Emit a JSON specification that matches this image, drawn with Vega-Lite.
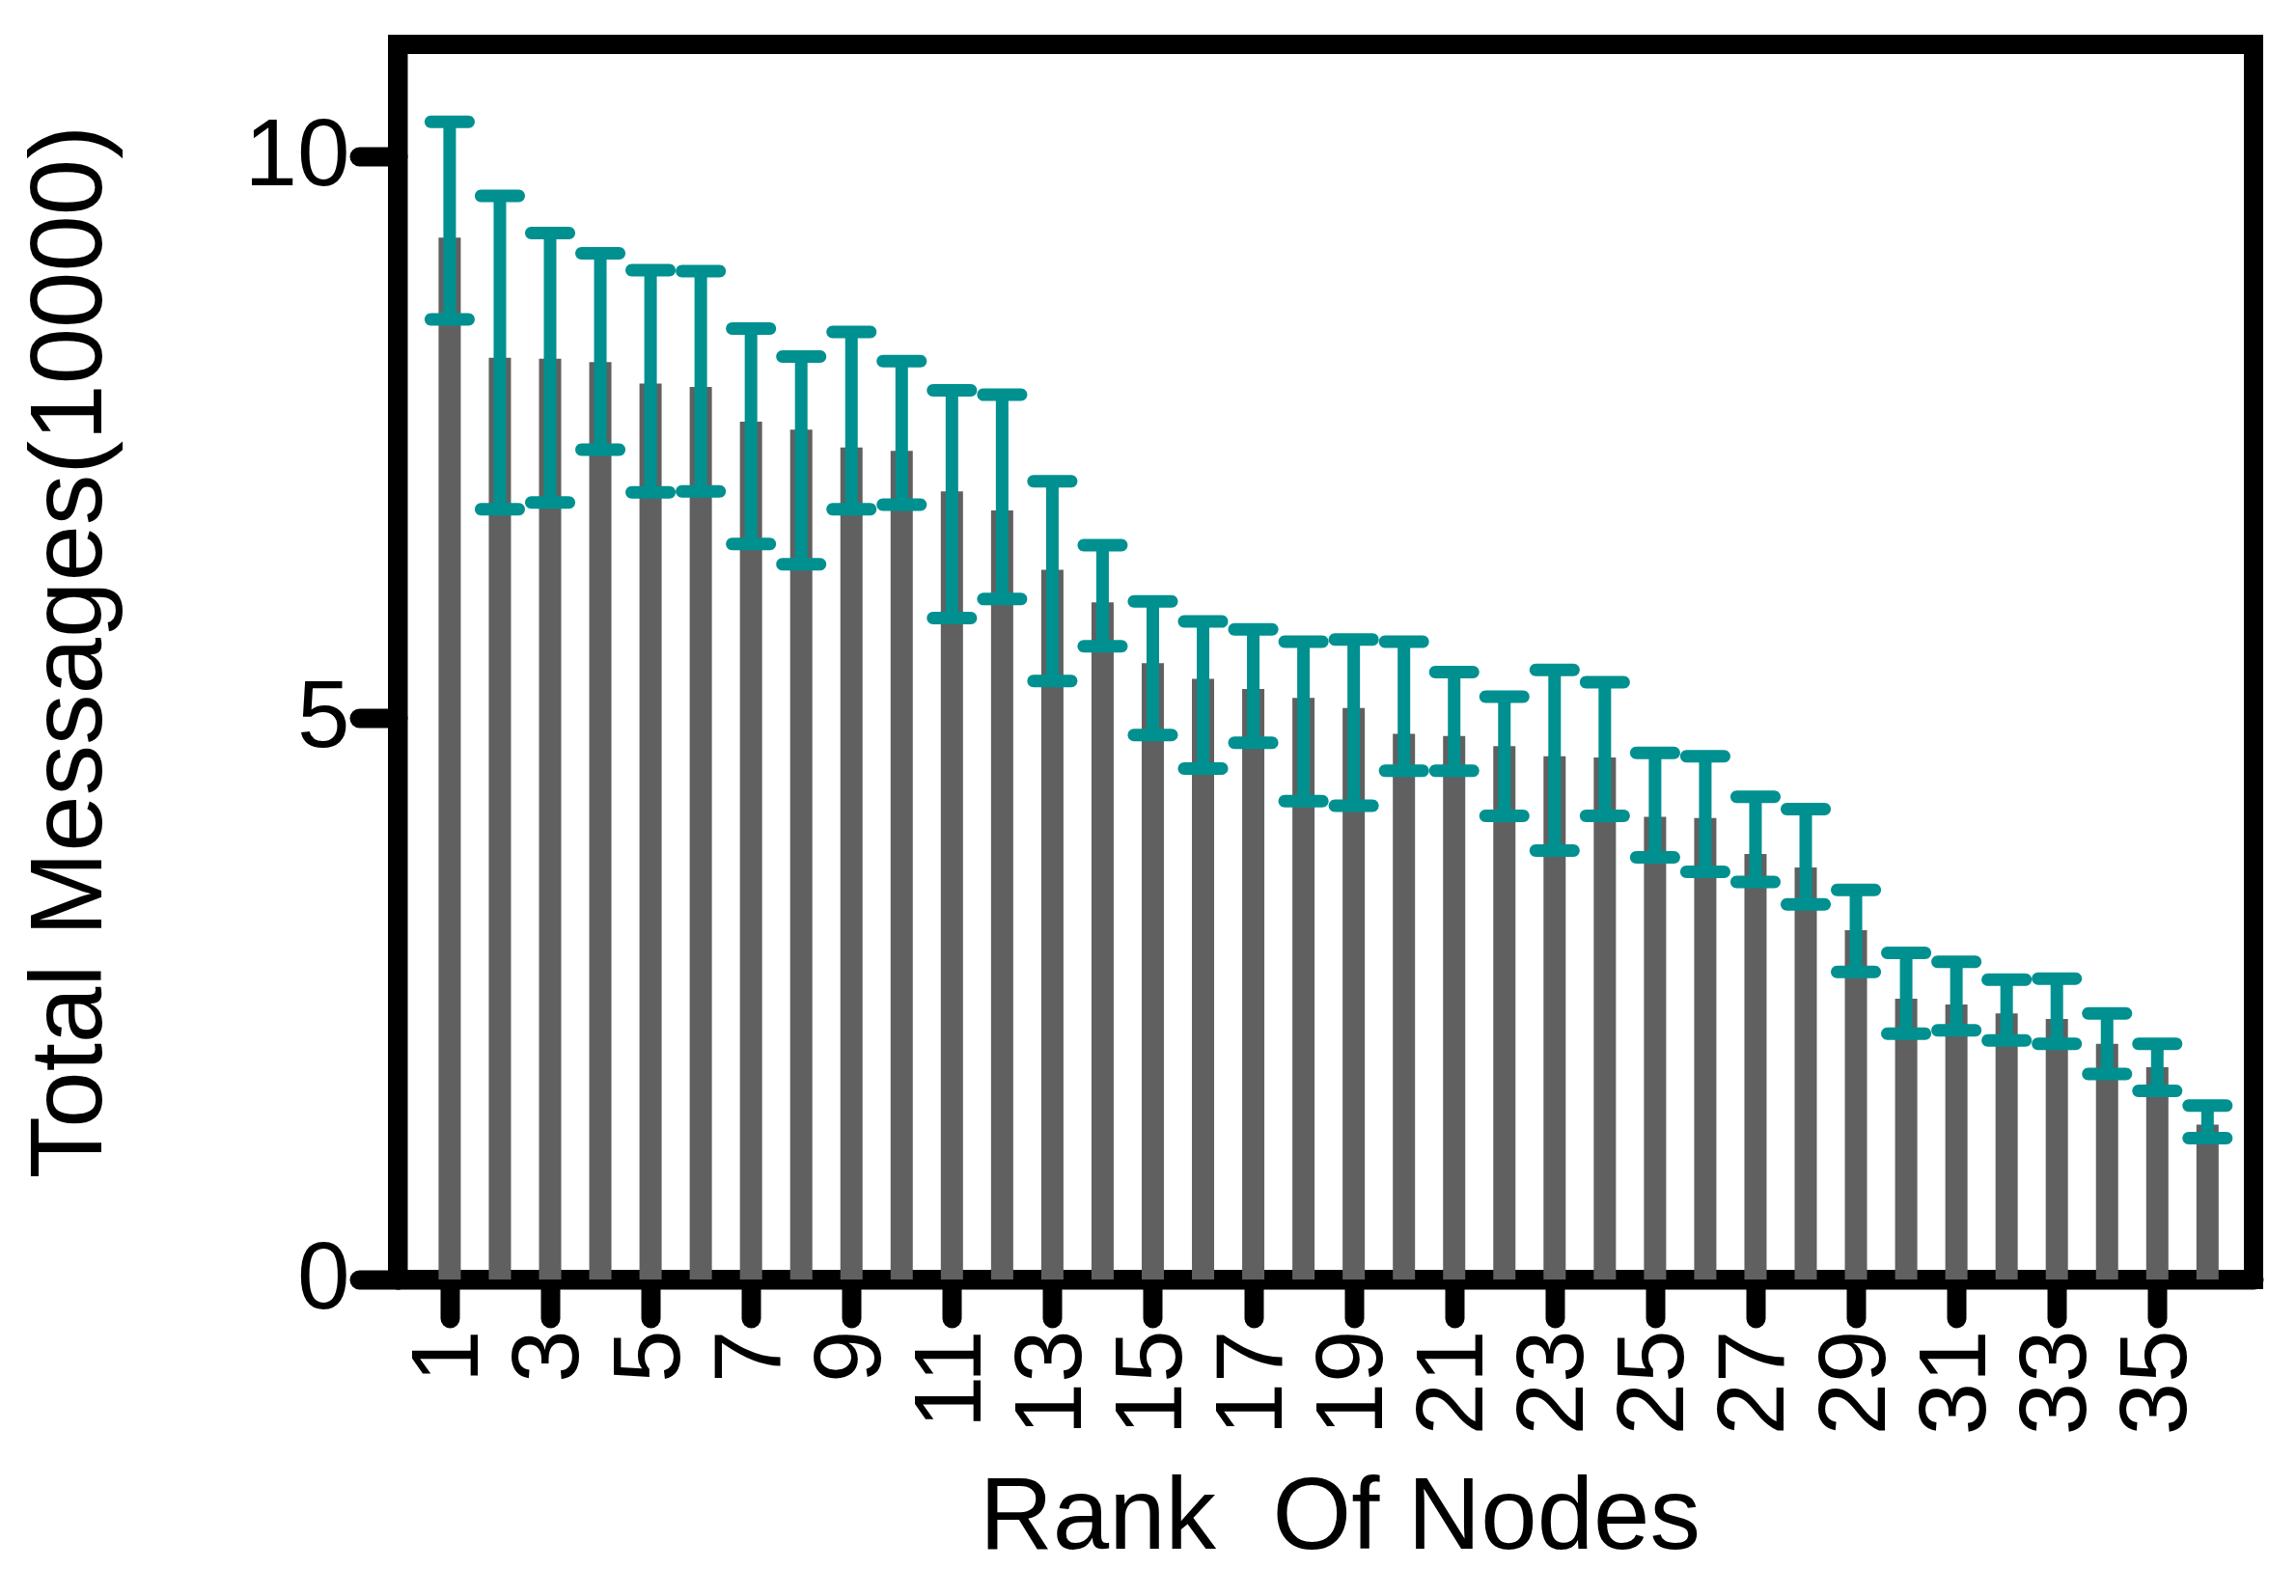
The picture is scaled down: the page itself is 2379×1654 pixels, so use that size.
{
  "$schema": "https://vega.github.io/schema/vega-lite/v6.json",
  "autosize": {"type": "none"},
  "padding": {"left": 412, "top": 46, "right": 44, "bottom": 328},
  "width": 1923,
  "height": 1280,
  "background": "white",
  "config": {
    "view": {"stroke": "black", "strokeWidth": 20},
    "font": "Liberation Sans",
    "axis": {
      "domainColor": "black",
      "domainWidth": 20,
      "domainCap": "round",
      "tickColor": "black",
      "tickWidth": 20,
      "tickCap": "round",
      "tickSize": 40,
      "grid": false,
      "labelFont": "Liberation Sans",
      "labelFontSize": 98,
      "labelColor": "black",
      "labelLimit": 1000,
      "titleFont": "Liberation Sans",
      "titleFontSize": 105,
      "titleFontWeight": "normal",
      "titleColor": "black"
    }
  },
  "data": {
    "values": [
      {"rank": 1, "mean": 9.28, "lo": 8.55, "hi": 10.31},
      {"rank": 2, "mean": 8.21, "lo": 6.86, "hi": 9.65},
      {"rank": 3, "mean": 8.20, "lo": 6.92, "hi": 9.32},
      {"rank": 4, "mean": 8.17, "lo": 7.39, "hi": 9.14},
      {"rank": 5, "mean": 7.98, "lo": 7.01, "hi": 8.99},
      {"rank": 6, "mean": 7.95, "lo": 7.02, "hi": 8.98},
      {"rank": 7, "mean": 7.64, "lo": 6.55, "hi": 8.47},
      {"rank": 8, "mean": 7.57, "lo": 6.37, "hi": 8.22},
      {"rank": 9, "mean": 7.41, "lo": 6.86, "hi": 8.44},
      {"rank": 10, "mean": 7.38, "lo": 6.90, "hi": 8.18},
      {"rank": 11, "mean": 7.02, "lo": 5.89, "hi": 7.92},
      {"rank": 12, "mean": 6.85, "lo": 6.06, "hi": 7.88},
      {"rank": 13, "mean": 6.32, "lo": 5.33, "hi": 7.11},
      {"rank": 14, "mean": 6.03, "lo": 5.64, "hi": 6.54},
      {"rank": 15, "mean": 5.49, "lo": 4.85, "hi": 6.04},
      {"rank": 16, "mean": 5.35, "lo": 4.55, "hi": 5.86},
      {"rank": 17, "mean": 5.26, "lo": 4.78, "hi": 5.79},
      {"rank": 18, "mean": 5.18, "lo": 4.26, "hi": 5.68},
      {"rank": 19, "mean": 5.09, "lo": 4.22, "hi": 5.70},
      {"rank": 20, "mean": 4.86, "lo": 4.53, "hi": 5.68},
      {"rank": 21, "mean": 4.84, "lo": 4.53, "hi": 5.41},
      {"rank": 22, "mean": 4.75, "lo": 4.13, "hi": 5.19},
      {"rank": 23, "mean": 4.66, "lo": 3.82, "hi": 5.43},
      {"rank": 24, "mean": 4.65, "lo": 4.13, "hi": 5.32},
      {"rank": 25, "mean": 4.12, "lo": 3.76, "hi": 4.69},
      {"rank": 26, "mean": 4.11, "lo": 3.63, "hi": 4.66},
      {"rank": 27, "mean": 3.79, "lo": 3.54, "hi": 4.30},
      {"rank": 28, "mean": 3.67, "lo": 3.34, "hi": 4.19},
      {"rank": 29, "mean": 3.11, "lo": 2.74, "hi": 3.47},
      {"rank": 30, "mean": 2.50, "lo": 2.19, "hi": 2.91},
      {"rank": 31, "mean": 2.45, "lo": 2.22, "hi": 2.83},
      {"rank": 32, "mean": 2.37, "lo": 2.13, "hi": 2.67},
      {"rank": 33, "mean": 2.32, "lo": 2.10, "hi": 2.68},
      {"rank": 34, "mean": 2.10, "lo": 1.83, "hi": 2.37},
      {"rank": 35, "mean": 1.89, "lo": 1.68, "hi": 2.10},
      {"rank": 36, "mean": 1.38, "lo": 1.26, "hi": 1.55}
    ]
  },
  "encoding": {
    "x": {
      "field": "rank",
      "type": "quantitative",
      "scale": {"domain": [0.06, 36.82], "nice": false, "zero": false},
      "axis": {
        "values": [1, 3, 5, 7, 9, 11, 13, 15, 17, 19, 21, 23, 25, 27, 29, 31, 33, 35],
        "format": "d",
        "labelAngle": -90,
        "labelPadding": 12,
        "title": "Rank\u00a0\u00a0Of Nodes",
        "titleX": 976,
        "titleY": 278,
        "titleBaseline": "alphabetic"
      }
    }
  },
  "layer": [
    {
      "mark": {"type": "bar", "size": 23, "color": "#606060"},
      "encoding": {
        "y": {
          "field": "mean",
          "type": "quantitative",
          "scale": {"domain": [0, 11], "nice": false},
          "axis": {
            "values": [0, 5, 10],
            "format": "d",
            "labelPadding": 10,
            "title": "Total Messages(10000)",
            "titleX": -308,
            "titleY": 629,
            "titleBaseline": "alphabetic",
            "titleAngle": -90
          }
        }
      }
    },
    {
      "mark": {"type": "rule", "color": "#009090", "strokeWidth": 13},
      "encoding": {
        "y": {"field": "lo", "type": "quantitative"},
        "y2": {"field": "hi"}
      }
    },
    {
      "mark": {"type": "tick", "orient": "horizontal", "color": "#009090", "size": 52, "thickness": 13, "cornerRadius": 6.5, "opacity": 1},
      "encoding": {
        "y": {"field": "hi", "type": "quantitative"}
      }
    },
    {
      "mark": {"type": "tick", "orient": "horizontal", "color": "#009090", "size": 52, "thickness": 13, "cornerRadius": 6.5, "opacity": 1},
      "encoding": {
        "y": {"field": "lo", "type": "quantitative"}
      }
    }
  ]
}
